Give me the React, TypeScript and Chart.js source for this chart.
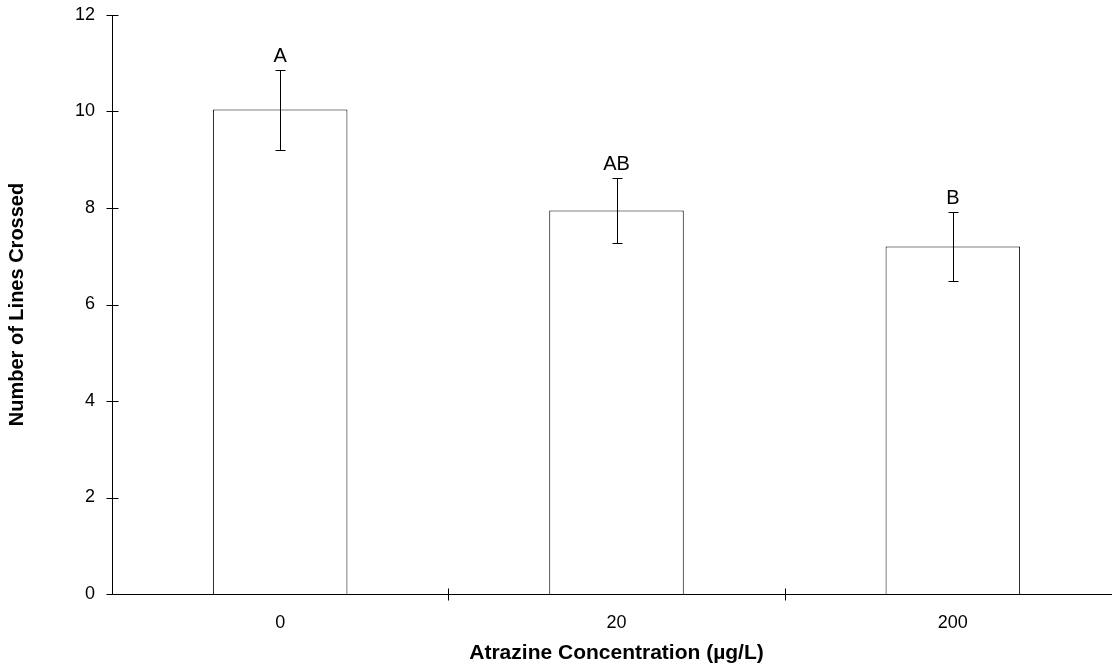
import React, { useEffect, useRef } from "react";
import { Chart, registerables } from "chart.js";

Chart.register(...registerables);

const categories = ["0", "20", "200"];
const means = [10.04, 7.95, 7.2];
const errors = [0.83, 0.67, 0.71];
const letters = ["A", "AB", "B"];
const yTicks = [0, 2, 4, 6, 8, 10, 12];

const FONT = "Arial, 'Liberation Sans', sans-serif";

const decorPlugin = {
  id: "decor",
  afterDatasetsDraw(chart: any) {
    const ctx = chart.ctx;
    const x = chart.scales.x;
    const y = chart.scales.y;
    const meta = chart.getDatasetMeta(0);
    ctx.save();
    ctx.strokeStyle = "#000";
    ctx.lineWidth = 1;
    meta.data.forEach((bar: any, i: number) => {
      const cx = Math.round(bar.x) + 0.5;
      const top = Math.round(y.getPixelForValue(means[i] + errors[i])) + 0.5;
      const bot = Math.round(y.getPixelForValue(means[i] - errors[i])) + 0.5;
      ctx.beginPath();
      ctx.moveTo(cx, top);
      ctx.lineTo(cx, bot);
      ctx.moveTo(cx - 5, top);
      ctx.lineTo(cx + 5, top);
      ctx.moveTo(cx - 5, bot);
      ctx.lineTo(cx + 5, bot);
      ctx.stroke();
      ctx.fillStyle = "#000";
      ctx.font = "20px " + FONT;
      ctx.textAlign = "center";
      ctx.textBaseline = "alphabetic";
      ctx.fillText(letters[i], bar.x, top - 9);
    });
    const ax = Math.round(x.left) + 0.5;
    yTicks.forEach((v) => {
      const py = Math.round(y.getPixelForValue(v)) + 0.5;
      ctx.beginPath();
      ctx.moveTo(ax - 6, py);
      ctx.lineTo(ax + 6, py);
      ctx.stroke();
    });
    const ay = Math.round(y.bottom) + 0.5;
    for (let i = 1; i < categories.length; i++) {
      const px = Math.round((x.getPixelForValue(i - 1) + x.getPixelForValue(i)) / 2) + 0.5;
      ctx.beginPath();
      ctx.moveTo(px, ay - 6);
      ctx.lineTo(px, ay + 6);
      ctx.stroke();
    }
    ctx.restore();
  },
};

export default function App() {
  const ref = useRef<HTMLCanvasElement>(null);
  useEffect(() => {
    document.body.style.margin = "0";
    const chart = new Chart(ref.current!, {
      type: "bar",
      data: {
        labels: categories,
        datasets: [
          {
            data: means,
            backgroundColor: "#ffffff",
            borderColor: "#000000",
            borderWidth: 1,
            barPercentage: 0.4,
            categoryPercentage: 1,
          },
        ],
      },
      options: {
        responsive: false,
        animation: false,
        devicePixelRatio: 1,
        layout: { padding: { top: 15, right: 0, left: 0, bottom: 0 } },
        plugins: { legend: { display: false }, tooltip: { enabled: false } },
        scales: {
          x: {
            grid: { display: false, drawTicks: false },
            border: { display: true, color: "#000", width: 1 },
            ticks: { color: "#000", font: { family: FONT, size: 18 }, padding: 18 },
            title: {
              display: true,
              text: "Atrazine Concentration (µg/L)",
              color: "#000",
              font: { family: FONT, size: 21, weight: "bold" },
              padding: { top: 0, bottom: 4 },
            },
            afterFit(scale: any) {
              scale.height = 76;
              scale.paddingLeft = 0;
              scale.paddingRight = 0;
            },
          },
          y: {
            min: 0,
            max: 12,
            grid: { display: false, drawTicks: false },
            border: { display: true, color: "#000", width: 1 },
            ticks: {
              stepSize: 2,
              color: "#000",
              font: { family: FONT, size: 18 },
              padding: 17,
            },
            title: {
              display: true,
              text: "Number of Lines Crossed",
              color: "#000",
              font: { family: FONT, size: 20, weight: "bold" },
              padding: { top: 5, bottom: 0 },
            },
            afterFit(scale: any) {
              scale.width = 112;
              scale.paddingTop = 0;
              scale.paddingBottom = 0;
            },
          },
        },
      },
      plugins: [decorPlugin],
    });
    return () => chart.destroy();
  }, []);
  return (
    <div style={{ width: 1112, height: 670, overflow: "hidden", position: "relative" }}>
      <canvas ref={ref} width={1121} height={670} style={{ display: "block" }} />
    </div>
  );
}
